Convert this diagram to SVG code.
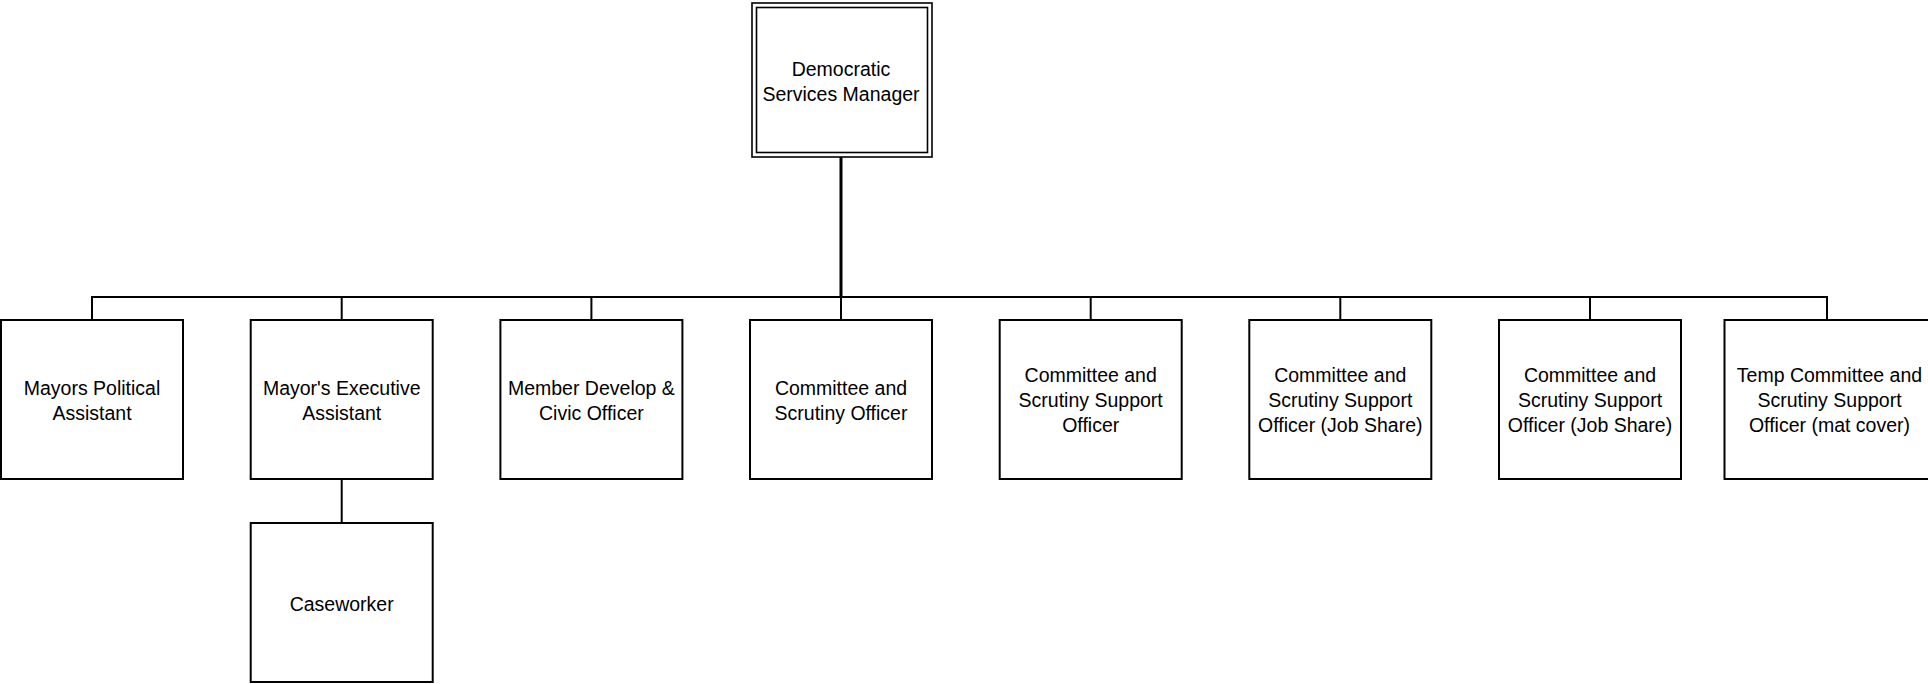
<svg xmlns="http://www.w3.org/2000/svg" width="1928" height="684" viewBox="0 0 1928 684">
<style>
.box{fill:#fff;stroke:#000;stroke-width:2}
.dbl{fill:none;stroke:#000;stroke-width:1.6}
.c{fill:none;stroke:#000;stroke-width:2}
.ct{fill:none;stroke:#000;stroke-width:3}
text{font-family:"Liberation Sans",Arial,sans-serif;font-size:19.5px;fill:#000;text-anchor:middle}
</style>
<rect width="1928" height="684" fill="#fff"/>
<g id="connectors">
<line class="ct" x1="841" y1="157" x2="841" y2="297"/>
<polyline class="c" points="92,320 92,297 1827,297 1827,320"/>
<line class="c" x1="341.7" y1="297" x2="341.7" y2="320"/>
<line class="c" x1="591.4" y1="297" x2="591.4" y2="320"/>
<line class="c" x1="841" y1="297" x2="841" y2="320"/>
<line class="c" x1="1090.7" y1="297" x2="1090.7" y2="320"/>
<line class="c" x1="1340.3" y1="297" x2="1340.3" y2="320"/>
<line class="c" x1="1590" y1="297" x2="1590" y2="320"/>
<line class="c" x1="341.7" y1="479" x2="341.7" y2="523"/>
</g>
<g id="n-dsm">
<rect class="dbl" x="752" y="3" width="180" height="154"/>
<rect class="dbl" x="756.5" y="7.5" width="171" height="145"/>
<text x="841" y="76">Democratic</text>
<text x="841" y="101">Services Manager</text>
</g>
<g id="n-mpa">
<rect class="box" x="1" y="320" width="182" height="159"/>
<text x="92" y="395">Mayors Political</text>
<text x="92" y="420">Assistant</text>
</g>
<g id="n-mea">
<rect class="box" x="250.7" y="320" width="182" height="159"/>
<text x="341.7" y="395">Mayor's Executive</text>
<text x="341.7" y="420">Assistant</text>
</g>
<g id="n-mdc">
<rect class="box" x="500.4" y="320" width="182" height="159"/>
<text x="591.4" y="395">Member Develop &amp;</text>
<text x="591.4" y="420">Civic Officer</text>
</g>
<g id="n-cso">
<rect class="box" x="750" y="320" width="182" height="159"/>
<text x="841" y="395">Committee and</text>
<text x="841" y="420">Scrutiny Officer</text>
</g>
<g id="n-csso">
<rect class="box" x="999.7" y="320" width="182" height="159"/>
<text x="1090.7" y="382">Committee and</text>
<text x="1090.7" y="407">Scrutiny Support</text>
<text x="1090.7" y="432">Officer</text>
</g>
<g id="n-csso-js1">
<rect class="box" x="1249.3" y="320" width="182" height="159"/>
<text x="1340.3" y="382">Committee and</text>
<text x="1340.3" y="407">Scrutiny Support</text>
<text x="1340.3" y="432">Officer (Job Share)</text>
</g>
<g id="n-csso-js2">
<rect class="box" x="1499" y="320" width="182" height="159"/>
<text x="1590" y="382">Committee and</text>
<text x="1590" y="407">Scrutiny Support</text>
<text x="1590" y="432">Officer (Job Share)</text>
</g>
<g id="n-temp">
<rect class="box" x="1724.5" y="320" width="210" height="159"/>
<text x="1829.5" y="382">Temp Committee and</text>
<text x="1829.5" y="407">Scrutiny Support</text>
<text x="1829.5" y="432">Officer (mat cover)</text>
</g>
<g id="n-case">
<rect class="box" x="250.7" y="523" width="182" height="159"/>
<text x="341.7" y="611">Caseworker</text>
</g>
</svg>
